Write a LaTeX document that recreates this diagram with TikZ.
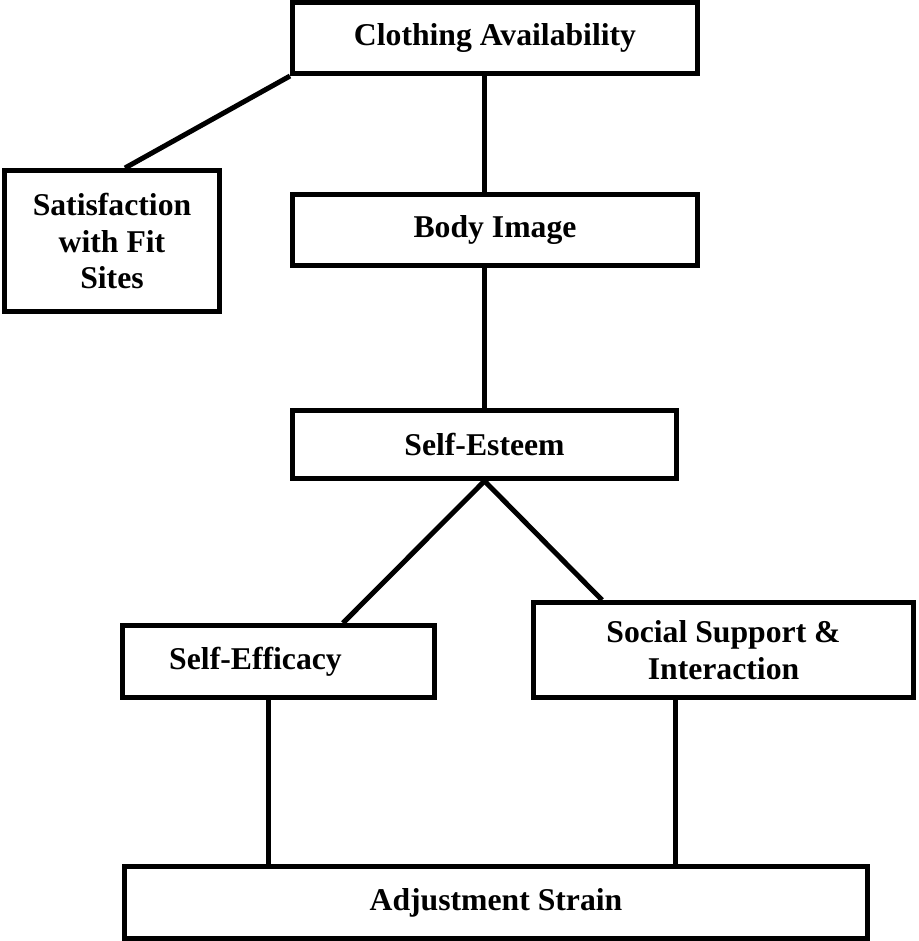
\documentclass[tikz,border=0pt]{standalone}
\usepackage{fontspec}
\setmainfont{Liberation Serif}
\begin{document}
\begin{tikzpicture}[x=1pt,y=-1pt,
  box/.style={draw=black,line width=5pt,rectangle,inner sep=0pt,align=center,
    font=\fontsize{31.7}{36.5}\selectfont\bfseries},
  link/.style={draw=black,line width=5pt}]
\useasboundingbox (0,0) rectangle (918,941);
\node[box,minimum width=405pt,minimum height=71pt] (clo) at (495,38) {Clothing Availability};
\node[box,minimum width=215pt,minimum height=141pt] (sat) at (112,241) {Satisfaction\\with Fit\\Sites};
\node[box,minimum width=405pt,minimum height=71pt] (body) at (495,230) {Body Image};
\node[box,minimum width=384pt,minimum height=68pt] (se) at (484.5,444.5) {Self-Esteem};
\node[box,minimum width=312pt,minimum height=72pt] (eff) at (278.5,661.5) {Self-Efficacy\hspace*{46pt}};
\node[box,minimum width=380pt,minimum height=95pt] (soc) at (723.5,650) {Social Support \&\\Interaction};
\node[box,minimum width=743pt,minimum height=72pt] (adj) at (496,902.5) {Adjustment Strain};
\coordinate (e1) at ([xshift=-10.5pt]eff.south);
\coordinate (s1) at ([xshift=-48pt]soc.south);
\draw[link] (clo.south west) -- ([xshift=13pt]sat.north);
\draw[link] (clo.south -| se.north) -- (body.north -| se.north);
\draw[link] (body.south -| se.north) -- (se.north);
\draw[link] (se.south) -- ([xshift=64.5pt]eff.north);
\draw[link] (se.south) -- ([xshift=-121.5pt]soc.north);
\draw[link] (e1) -- (e1 |- adj.north);
\draw[link] (s1) -- (s1 |- adj.north);
\end{tikzpicture}
\end{document}
